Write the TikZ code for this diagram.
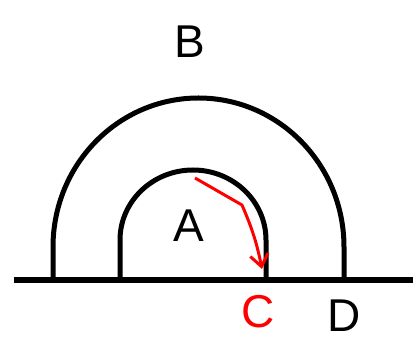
\documentclass[tikz,border=0pt]{standalone}
\usepackage{fontspec}
\setmainfont{Liberation Sans}
\usetikzlibrary{arrows.meta}
\tikzset{
  archline/.style={line width=5pt,black},
  groundline/.style={line width=5.5pt,black},
  redarr/.style={-{Straight Barb[length=12pt,width=18pt,line width=3pt]},red,line width=3pt,line join=round},
  lbl/.style={font=\fontsize{46}{50}\selectfont,inner sep=0pt}
}
\begin{document}
\begin{tikzpicture}[x=1pt,y=1pt]
  \useasboundingbox (0,0) rectangle (413,340);
  % ground and arches
  \coordinate (gl) at (14,60);
  \coordinate (gr) at (413,60);
  \draw[groundline] (gl) -- (gr);
  \draw[archline] (53,60) -- (53,93) arc[start angle=180,end angle=0,x radius=145.5,y radius=149] -- (344,60);
  \draw[archline] (120,60) -- (120,100) arc[start angle=180,end angle=0,x radius=73,y radius=70] -- (266,60);

  \node[lbl] (B) at (190,298) {B};
  \node[lbl] (A) at (189,114) {A};
  \node[lbl,red] (C) at (258,28) {C};
  \node[lbl] (D) at (344,24) {D};

  % red arrow
  \coordinate (s) at (195,162);
  \coordinate (m) at (242,135);
  \coordinate (e) at (262,71);
  \draw[redarr] (s) -- (m) to[bend left=6] (e);
\end{tikzpicture}
\end{document}
